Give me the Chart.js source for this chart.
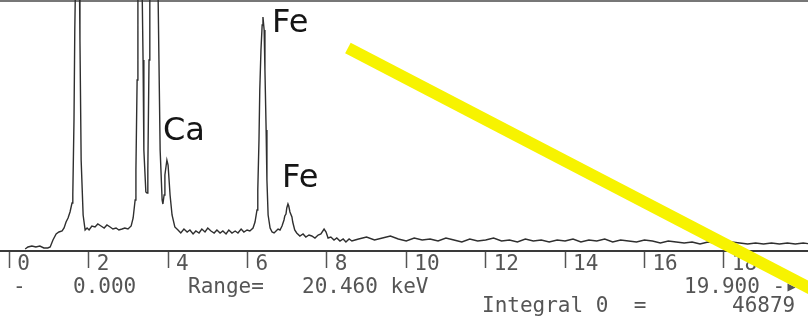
<!DOCTYPE html>
<html>
<head>
<meta charset="utf-8">
<script src="https://cdn.jsdelivr.net/npm/chart.js@4.4.1/dist/chart.umd.min.js"></script>
<style>
  html, body { margin: 0; padding: 0; background: #fff; }
  canvas { display: block; }
</style>
</head>
<body>
<canvas id="spectrum" width="808" height="324"></canvas>
<script>
// EDS spectrum, energy in keV, counts
const energyKeV = [
    0.40, 0.47, 0.57, 0.67, 0.77, 0.87, 0.97, 1.03, 1.10, 1.18, 1.25, 1.33, 1.38, 1.43, 1.48, 1.53, 1.58, 1.60,
    1.63, 1.65, 1.68, 1.71, 1.76, 1.78, 1.81, 1.86, 1.91, 1.96, 2.01, 2.08, 2.16, 2.23, 2.31, 2.39, 2.46, 2.54,
    2.61, 2.69, 2.76, 2.84, 2.91, 2.99, 3.07, 3.12, 3.17, 3.19, 3.22, 3.24, 3.29, 3.34, 3.37, 3.39, 3.44, 3.47,
    3.49, 3.52, 3.54, 3.59, 3.67, 3.74, 3.77, 3.80, 3.85, 3.87, 3.90, 3.92, 3.97, 4.00, 4.05, 4.10, 4.17, 4.25,
    4.32, 4.40, 4.48, 4.55, 4.63, 4.70, 4.78, 4.85, 4.93, 5.00, 5.08, 5.16, 5.23, 5.31, 5.38, 5.46, 5.53, 5.61,
    5.69, 5.76, 5.84, 5.91, 5.99, 6.06, 6.14, 6.19, 6.24, 6.26, 6.29, 6.31, 6.34, 6.37, 6.39, 6.42, 6.44, 6.47,
    6.49, 6.52, 6.57, 6.62, 6.67, 6.72, 6.77, 6.82, 6.87, 6.92, 6.94, 6.97, 6.99, 7.02, 7.04, 7.07, 7.12, 7.14,
    7.19, 7.24, 7.32, 7.40, 7.47, 7.55, 7.62, 7.70, 7.78, 7.85, 7.93, 7.98, 8.03, 8.10, 8.18, 8.25, 8.33, 8.41,
    8.48, 8.56, 8.63, 8.71,
    8.8, 9.0, 9.2, 9.4, 9.6, 9.8, 10.0, 10.2, 10.4, 10.6, 10.8, 11.0, 11.2, 11.4, 11.6, 11.8, 12.0, 12.2, 12.4,
    12.6, 12.8, 13.0, 13.2, 13.4, 13.6, 13.8, 14.0, 14.2, 14.4, 14.6, 14.8, 15.0, 15.2, 15.4, 15.6, 15.8, 16.0,
    16.2, 16.4, 16.6, 16.8, 17.0, 17.2, 17.4, 17.6, 17.8, 18.0, 18.2, 18.4, 18.6, 18.8, 19.0, 19.2, 19.4, 19.6,
    19.8, 20.0, 20.2
];
const counts = [
    20, 40, 50, 40, 50, 30, 30, 40, 110, 170, 190, 200, 230, 290, 330, 390, 480, 560,
    1310, 2210, 3010, 3510, 3010, 2110, 910, 360, 210, 230, 210, 250, 240, 270, 250, 230, 260, 240,
    220, 230, 210, 220, 230, 220, 250, 330, 510, 810, 1710, 2510, 3510, 2810, 1910, 1010, 590, 580,
    810, 1910, 2510, 3310, 3710, 2810, 1910, 1010, 510, 470, 560, 760, 910, 860, 560, 360, 240, 210,
    180, 220, 190, 210, 170, 200, 180, 220, 190, 230, 200, 180, 210, 180, 200, 170, 210, 180,
    200, 180, 220, 190, 210, 200, 230, 290, 410, 610, 1110, 1610, 2010, 2260, 2340, 2210, 1810, 1210,
    710, 360, 230, 190, 180, 200, 220, 210, 250, 310, 350, 370, 430, 470, 450, 390, 340, 290,
    210, 180, 150, 170, 140, 160, 150, 130, 160, 170, 220, 190, 130, 140, 110, 130, 100, 120,
    90, 120, 100, 110,
    120, 140, 110, 130, 150, 120, 100, 130, 110, 120, 100, 130, 110, 90, 120, 100, 110, 130, 100,
    110, 90, 120, 100, 110, 90, 110, 100, 120, 90, 110, 100, 120, 90, 110, 100, 90, 110,
    100, 80, 100, 90, 80, 90, 70, 90, 80, 70, 90, 80, 70, 80, 70, 80, 70, 80,
    70, 80, 70
];

const tickKeV = [0, 2, 4, 6, 8, 10, 12, 14, 16, 18];
const xMinKeV = -0.234;
const xMaxKeV = 20.12;
const yMaxCounts = 2510;

const peakLabels = ['Fe', 'Ca', 'Fe'];
const peakLabelKeV = [6.62, 3.87, 6.87];
const peakLabelCounts = [2190, 1110, 640];

// yellow highlighter stroke across the plot
const markerKeV = [8.53, 20.67];
const markerCounts = [2030, -476];

const readoutRow1 = ['-', '0.000', 'Range=', '20.460 keV', '19.900 -\u25B8'];
const readoutRow2 = ['Integral 0  =', '46879'];

const monoFont = '21px "DejaVu Sans Mono", monospace';

const decorations = {
    id: 'decorations',
    beforeDraw(chart) {
        const ctx = chart.ctx;
        ctx.save();
        ctx.fillStyle = '#fff';
        ctx.fillRect(0, 0, chart.width, chart.height);
        ctx.strokeStyle = '#777';
        ctx.lineWidth = 2;
        ctx.beginPath();
        ctx.moveTo(0, 1);
        ctx.lineTo(chart.width, 1);
        ctx.stroke();
        ctx.restore();
    },
    beforeDatasetsDraw(chart) {
        const ctx = chart.ctx;
        const row1X = [13, 73, 188, 302, 684];
        const row2X = [482, 732];
        ctx.save();
        ctx.font = monoFont;
        ctx.fillStyle = '#555';
        ctx.textBaseline = 'alphabetic';
        readoutRow1.forEach((t, i) => ctx.fillText(t, row1X[i], 293));
        readoutRow2.forEach((t, i) => ctx.fillText(t, row2X[i], 312));
        ctx.restore();
    },
    afterDatasetsDraw(chart) {
        const ctx = chart.ctx;
        const x = chart.scales.x, y = chart.scales.y;
        ctx.save();
        ctx.font = '32px "DejaVu Sans", sans-serif';
        ctx.fillStyle = '#151515';
        ctx.textBaseline = 'alphabetic';
        peakLabels.forEach((t, i) => {
            ctx.fillText(t, x.getPixelForValue(peakLabelKeV[i]), y.getPixelForValue(peakLabelCounts[i]));
        });
        ctx.restore();
    }
};

new Chart(document.getElementById('spectrum'), {
    type: 'line',
    data: {
        datasets: [{
            label: 'Spectrum',
            data: energyKeV.map((e, i) => ({ x: e, y: counts[i] })),
            borderColor: '#2f2f2f',
            borderWidth: 1.4,
            pointRadius: 0,
            tension: 0,
            order: 2
        }, {
            label: 'Marker',
            data: markerKeV.map((e, i) => ({ x: e, y: markerCounts[i] })),
            borderColor: '#f7f300',
            borderWidth: 12,
            borderCapStyle: 'butt',
            pointRadius: 0,
            clip: false,
            order: 1
        }]
    },
    options: {
        responsive: false,
        devicePixelRatio: 1,
        animation: false,
        layout: { padding: 0 },
        plugins: {
            legend: { display: false },
            tooltip: { enabled: false }
        },
        scales: {
            x: {
                type: 'linear',
                min: xMinKeV,
                max: xMaxKeV,
                afterBuildTicks: s => { s.ticks = tickKeV.map(v => ({ value: v })); },
                afterFit: s => { s.height = 73; },
                border: { display: true, color: '#3a3a3a', width: 2 },
                grid: { drawOnChartArea: false, drawTicks: true, tickLength: 17, tickColor: '#555', tickWidth: 1.5 },
                ticks: {
                    align: 'start',
                    labelOffset: 8,
                    padding: -16,
                    maxRotation: 0,
                    autoSkip: false,
                    color: '#555',
                    font: { family: '"DejaVu Sans Mono", monospace', size: 21 },
                    callback: v => String(v)
                }
            },
            y: { display: false, min: 0, max: yMaxCounts }
        }
    },
    plugins: [decorations]
});
</script>
</body>
</html>
